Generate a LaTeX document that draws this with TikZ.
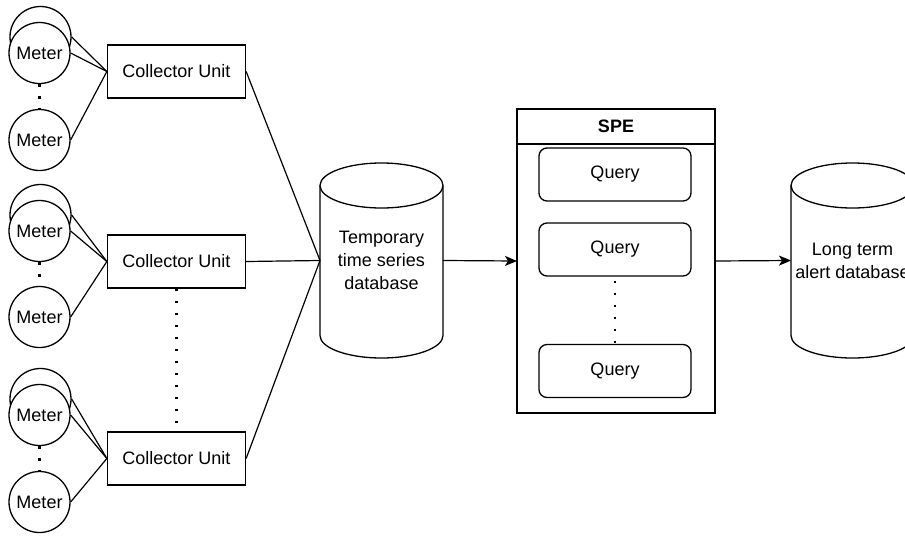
\documentclass[tikz,border=0pt]{standalone}
\usepackage{fontspec}
\setmainfont{Liberation Sans}
\usetikzlibrary{arrows.meta}
\begin{document}
\begin{tikzpicture}[x=1pt,y=-1pt, line width=1.3pt,
  every node/.style={font=\fontsize{18}{23}\selectfont, text=black},
  meter/.style={circle, draw, fill=white, minimum size=61pt, inner sep=0pt},
  unitbox/.style={rectangle, draw, minimum width=138pt, minimum height=53pt, inner sep=0pt},
  qbox/.style={rectangle, draw, rounded corners=8pt, minimum width=152pt, minimum height=53pt, inner sep=0pt},
  dbbody/.style={rectangle, minimum width=123pt, minimum height=195pt, inner sep=0pt, outer sep=0pt, align=center},
  link/.style={line width=1.2pt},
  flow/.style={line width=1.2pt, -{Stealth[length=12pt,width=10pt,inset=3pt]}},
  dotline/.style={line width=2.4pt, dash pattern=on 2.4pt off 9.6pt}
]
\useasboundingbox (0,0) rectangle (905,536);

% meter groups: back circle, front circle, lower circle
\foreach \g/\fy/\ly in {1/53/140, 2/231/317, 3/415/502}{
  \node[meter] (m\g a) at (40.5,\fy-16) {};
  \node[meter] (m\g b) at (39.5,\fy) {Meter};
  \node[meter] (m\g c) at (39.5,\ly) {Meter};
  \draw[dotline] (m\g b.south) -- (m\g c.north);
}

% collector units
\node[unitbox] (c1) at (176.5,71.5) {Collector Unit};
\node[unitbox] (c2) at (176.5,261.5) {Collector Unit};
\node[unitbox] (c3) at (176.5,458.5) {Collector Unit};
\draw[dotline] (c2.south) -- (c3.north);

\foreach \g in {1,2,3}{
  \draw[link] (m\g a.east) -- (c\g.west);
  \draw[link] (m\g b.east) -- (c\g.west);
  \draw[link] (m\g c.east) -- (c\g.west);
}

% temporary time series database (cylinder)
\node[dbbody] (db1) at (381.5,260.5) {Temporary\\time series\\database};
\draw ([yshift=-22.5pt]db1.north west) -- ([yshift=22.5pt]db1.south west)
  arc[start angle=180, end angle=360, x radius=61.5pt, y radius=22.5pt]
  -- ([yshift=-22.5pt]db1.north east);
\draw ([yshift=-22.5pt]db1.north) ellipse[x radius=61.5pt, y radius=22.5pt];

\foreach \g in {1,2,3}{
  \draw[link] (c\g.east) -- (db1.west);
}

% stream processing engine
\node[rectangle, draw, minimum width=198pt, minimum height=304pt, inner sep=0pt, outer sep=0pt] (spe) at (616,261) {};
\draw ([yshift=-35pt]spe.north west) -- ([yshift=-35pt]spe.north east);
\node[font=\fontsize{18}{23}\selectfont\bfseries] (spetitle) at ([yshift=-17.5pt]spe.north) {SPE};
\node[qbox] (q1) at (615,174.5) {Query};
\node[qbox] (q2) at (615,249.5) {Query};
\node[qbox] (q3) at (615,371) {Query};
\draw[dotline, dash phase=-4pt] (q2.south) -- (q3.north);

\draw[flow] (db1.east) -- (spe.west);

% long term alert database (cylinder)
\node[dbbody] (db2) at (852.5,260.5) {Long term\\alert database};
\draw ([yshift=-22.5pt]db2.north west) -- ([yshift=22.5pt]db2.south west)
  arc[start angle=180, end angle=360, x radius=61.5pt, y radius=22.5pt]
  -- ([yshift=-22.5pt]db2.north east);
\draw ([yshift=-22.5pt]db2.north) ellipse[x radius=61.5pt, y radius=22.5pt];

\draw[flow] (spe.east) -- (db2.west);
\end{tikzpicture}
\end{document}
